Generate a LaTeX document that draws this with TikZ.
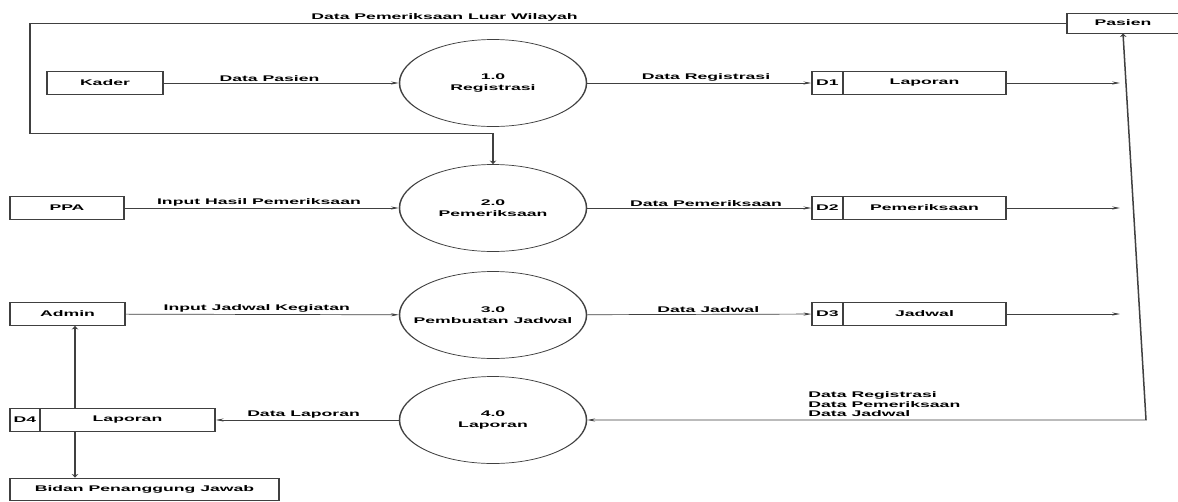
\documentclass[tikz,border=0pt]{standalone}
\usepackage{fontspec}
\setmainfont{Liberation Sans}
\usetikzlibrary{arrows.meta}
\newcommand\dfdfont{\fontsize{8.2}{11}\selectfont\bfseries}
\tikzset{
  ln/.style={draw=black!75, line width=0.7pt},
  >={Stealth[length=3.6pt,width=3pt]},
  ent/.style={draw=black!75, line width=0.7pt, rectangle, minimum height=23pt, inner sep=0pt, font=\dfdfont},
  proc/.style={circle, draw=black!75, line width=0.7pt, minimum size=87pt, inner sep=0pt, align=center, font=\dfdfont},
  lbl/.style={font=\dfdfont, inner sep=1.5pt, text=black}
}
\begin{document}
\begin{tikzpicture}
\useasboundingbox (0,0) rectangle (1178pt,-501pt);
\fill[white] (0,0) rectangle (1178pt,-501pt);
\begin{scope}[transform canvas={xscale=2.15}, x=0.465116pt, y=-1pt]
  % external entities
  \node[ent, minimum width=54pt] (kader) at (105,83) {Kader};
  \node[ent, minimum width=53pt] (ppa) at (67,208) {PPA};
  \node[ent, minimum width=53.5pt] (admin) at (67.5,314) {Admin};
  \node[ent, minimum width=52pt, minimum height=20pt] (pasien) at (1123,23) {Pasien};
  \node[ent, minimum width=125pt, minimum height=22pt] (bidan) at (144.5,489) {Bidan Penanggung Jawab};
  % processes
  \node[proc] (p1) at (493,83) {1.0\\Registrasi};
  \node[proc] (p2) at (493,208) {2.0\\Pemeriksaan};
  \node[proc] (p3) at (493,315) {3.0\\Pembuatan Jadwal};
  \node[proc] (p4) at (493,420) {4.0\\Laporan};
  % data stores
  \node[ent, minimum width=14.4pt] (d1id) at (827.5,83) {D1};
  \node[ent, minimum width=75.8pt] (d1) at (924.5,83) {Laporan};
  \node[ent, minimum width=14.4pt] (d2id) at (827.5,208) {D2};
  \node[ent, minimum width=75.8pt] (d2) at (924.5,208) {Pemeriksaan};
  \node[ent, minimum width=14.4pt] (d3id) at (827.5,314) {D3};
  \node[ent, minimum width=75.8pt] (d3) at (924.5,314) {Jadwal};
  \node[ent, minimum width=14pt] (d4id) at (25,420) {D4};
  \node[ent, minimum width=81.4pt] (d4) at (127.5,420) {Laporan};
  % helper coordinates
  \coordinate (e1) at (1120,83);
  \coordinate (e2) at (1120,208);
  \coordinate (e3) at (1120,314);
  \coordinate (rc) at (1146,420);
  \coordinate (lt) at (30,22);
  \coordinate (lb) at (30,133);
  \coordinate (vx) at (75,0);
  % flows
  \draw[ln,->] (kader) -- node[lbl,above,pos=.45]{Data Pasien} (p1);
  \draw[ln,->] (ppa) -- node[lbl,above,pos=.49]{Input Hasil Pemeriksaan} (p2);
  \draw[ln,->] (admin) -- node[lbl,above,pos=.48]{Input Jadwal Kegiatan} (p3);
  \draw[ln,->] (p1) -- node[lbl,above,pos=.53]{Data Registrasi} (d1id);
  \draw[ln,->] (p2) -- node[lbl,above,pos=.53]{Data Pemeriksaan} (d2id);
  \draw[ln,->] (p3) -- node[lbl,above,pos=.54]{Data Jadwal} (d3id);
  \draw[ln,->] (d1) -- (e1);
  \draw[ln,->] (d2) -- (e2);
  \draw[ln,->] (d3) -- (e3);
  \draw[ln,->] (p4) -- node[lbl,above,pos=.52]{Data Laporan} (d4);
  \draw[ln,<->] (p4) -- (rc) -- (pasien.south);
  \node[lbl, anchor=south west, align=left, inner sep=0pt, font=\fontsize{8.2}{9.6}\selectfont\bfseries] (lblr) at (808,417) {Data Registrasi\\Data Pemeriksaan\\Data Jadwal};
  \draw[ln,->] (pasien.west) -- node[lbl,above,pos=.6]{Data Pemeriksaan Luar Wilayah} (pasien.west -| lt) -- (lb) -- (lb -| p2.north) -- (p2.north);
  \draw[ln,->] (vx |- d4.north) -- (vx |- admin.south);
  \draw[ln,->] (vx |- d4.south) -- (vx |- bidan.north);
\end{scope}
\end{tikzpicture}
\end{document}
